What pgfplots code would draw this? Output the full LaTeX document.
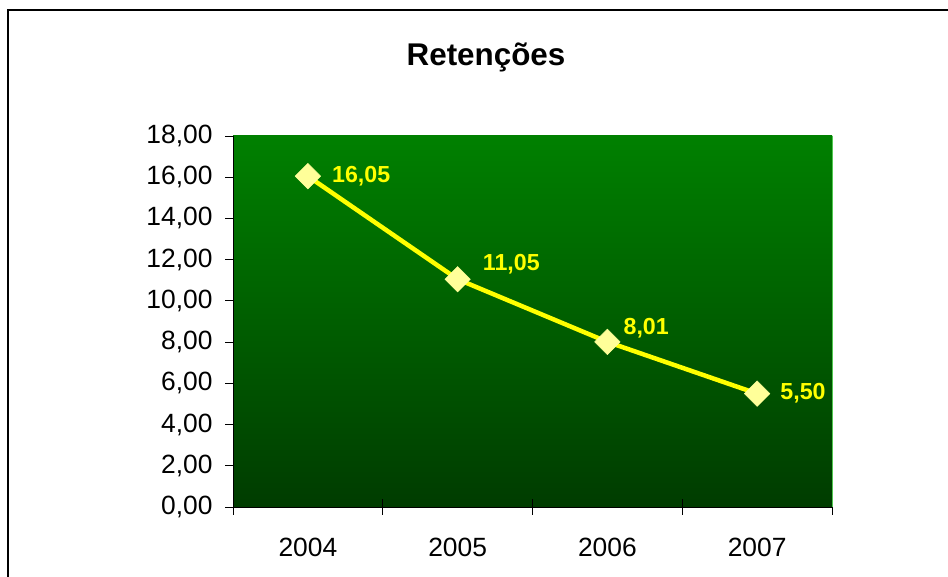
\documentclass[border=0pt]{standalone}
\usepackage{pgfplots}
\pgfplotsset{compat=1.18}
\usepackage{pgfplotstable}
\usepackage{fontspec}
\setmainfont{Liberation Sans}
\definecolor{topgreen}{RGB}{0,128,0}
\definecolor{botgreen}{RGB}{0,60,0}
\definecolor{lineyellow}{RGB}{255,255,0}
\definecolor{markyellow}{RGB}{255,255,153}
\definecolor{edgegreen}{RGB}{80,200,80}
\pgfplotstableread{
x y dx dy
0 16.05 24 0
1 11.05 25 15
2 8.01 16 14
3 5.50 23 0
}\datatable
\begin{document}
\begin{tikzpicture}[x=1bp,y=1bp]
\useasboundingbox (0,0) rectangle (948,577);
\draw[line width=1.5bp,black] (8,0) -- (8,567) -- (948,567);
\node[font=\fontsize{31.5}{31.5}\selectfont\bfseries, anchor=base] at (486,511) {Retenções};
\begin{axis}[
  at={(233bp,70bp)}, anchor=south west,
  scale only axis, width=599bp, height=371bp,
  xmin=-0.5, xmax=3.5, ymin=0, ymax=18,
  axis background/.style={shade, top color=topgreen, bottom color=botgreen},
  axis line style={black, line width=0.8bp},
  axis x line*=bottom, axis y line*=left,
  xtick={0,1,2,3}, xticklabels={2004,2005,2006,2007},
  major x tick style={draw=none},
  minor xtick={-0.5,0.5,1.5,2.5,3.5},
  minor x tick style={black, line width=0.8bp},
  minor tick length=16bp,
  x tick label style={yshift=-24bp},
  ytick={0,2,...,18},
  y tick style={black, line width=0.8bp},
  ytick align=outside, major tick length=8bp,
  xtick align=center,
  y tick label style={xshift=-9bp},
  tick label style={font=\fontsize{26.5}{26.5}\selectfont},
  /pgf/number format/assume math mode=true,
  yticklabel style={/pgf/number format/.cd, fixed, fixed zerofill, precision=2, use comma},
  clip=false,
]
\draw[edgegreen, line width=1bp] (rel axis cs:1,0) -- (rel axis cs:1,1);
\addplot[
  lineyellow, line width=4.5bp,
  mark=square*, mark size=9bp,
  mark options={solid, fill=markyellow, draw=markyellow, line width=0.5bp, rotate=45},
  point meta=y,
  nodes near coords={\pgfmathprintnumber[fixed, fixed zerofill, precision=2, use comma, assume math mode=true]{\pgfplotspointmeta}},
  visualization depends on={\thisrow{dx} \as \dxv},
  visualization depends on={\thisrow{dy} \as \dyv},
  every node near coord/.append style={anchor=west, inner sep=0pt,
    xshift=\dxv bp, yshift=\dyv bp, text=lineyellow,
    font=\fontsize{23.3}{23.3}\selectfont\bfseries},
] table[x=x, y=y] {\datatable};
\end{axis}
\end{tikzpicture}
\end{document}
